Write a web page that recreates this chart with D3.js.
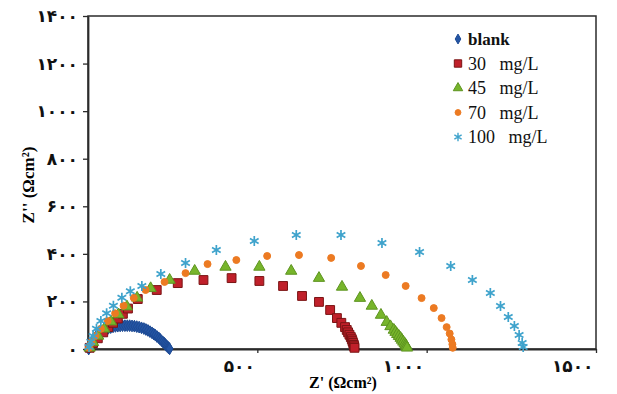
<!DOCTYPE html>
<html>
<head>
<meta charset="utf-8">
<script src="https://cdn.jsdelivr.net/npm/d3@7"></script>
<style>
  body { margin: 0; background: #fff; }
  text { white-space: pre; }
</style>
</head>
<body>
<div id="chart"></div>
<script>
// Chart size
var width = 617;
var height = 394;

// Nyquist data [Z', Z''] for each concentration
var blank = [[2,0],[5,10],[8,20],[11,29],[15,38],[19,46],[24,54],[29,61],[35,68],[41,74],[47,79],[53,83],[60,87],[67,90],[74,93],[81,95],[88,96],[95,97],[102,98],[109,98],[116,98],[123,98],[130,97],[137,96],[144,94],[151,92],[158,89],[165,86],[171,82],[177,78],[183,73],[189,68],[194,63],[199,58],[204,52],[209,47],[213,41],[217,35],[221,30],[225,25],[228,20],[231,15],[234,11],[237,7],[239,4],[241,1]];
var c30 = [[5,5],[15,25],[29,45],[45,70],[60,92],[74,110],[88,128],[103,148],[118,170],[147,210],[203,248],[265,277],[341,290],[424,298],[506,286],[576,265],[632,223],[682,198],[715,164],[735,130],[748,110],[759,92],[764,80],[768,70],[772,60],[776,50],[779,41],[781,33],[783,25],[785,17],[786,11],[787,5]];
var c45 = [[5,5],[15,28],[30,55],[48,85],[68,115],[90,145],[115,178],[145,215],[185,255],[241,290],[315,328],[406,345],[506,345],[600,328],[682,298],[750,261],[803,214],[838,181],[865,143],[882,113],[893,95],[903,80],[908,71],[913,62],[918,54],[923,46],[927,38],[931,30],[935,23],[938,17],[940,11],[942,5]];
var c70 = [[3,5],[10,28],[22,55],[38,85],[58,118],[80,150],[105,182],[135,215],[170,248],[226,282],[288,319],[353,357],[438,374],[529,391],[623,395],[718,383],[806,349],[879,311],[938,265],[985,214],[1021,172],[1044,130],[1059,92],[1068,65],[1073,40],[1076,20],[1077,5]];
var c100 = [[3,8],[8,30],[15,55],[25,85],[38,118],[55,150],[75,182],[100,215],[125,243],[159,265],[215,315],[288,362],[379,416],[491,454],[615,479],[747,479],[868,446],[979,408],[1071,349],[1135,290],[1188,235],[1218,181],[1241,135],[1259,97],[1273,59],[1282,25],[1285,8]];

var seriesNames = ["blank", "30   mg/L", "45   mg/L", "70   mg/L", "100   mg/L"];

// Tick values and their Persian labels
var xTicks = [500, 1000, 1500];
var xTickLabels = ["۵۰۰", "۱۰۰۰", "۱۵۰۰"];
var yTicks = [0, 200, 400, 600, 800, 1000, 1200, 1400];
var yTickLabels = ["۰", "۲۰۰", "۴۰۰", "۶۰۰", "۸۰۰", "۱۰۰۰", "۱۲۰۰", "۱۴۰۰"];

var series = [
    {name: seriesNames[0], data: blank, shape: d3.symbolDiamond, size: 40, fill: "#2455a4", stroke: "#1d4a94"},
    {name: seriesNames[1], data: c30, shape: d3.symbolSquare, size: 78, fill: "#c0202a", stroke: "#7a1414"},
    {name: seriesNames[2], data: c45, shape: d3.symbolTriangle, size: 55, fill: "#77b52b", stroke: "#5d9420"},
    {name: seriesNames[3], data: c70, shape: d3.symbolCircle, size: 38, fill: "#ec7a22", stroke: "#ec7a22"},
    {name: seriesNames[4], data: c100, shape: d3.symbolAsterisk, size: 70, fill: "none", stroke: "#3fa3cc"}
];

// Plot area
var plotLeft = 88, plotRight = 596, plotTop = 16, plotBottom = 349;

var x = d3.scaleLinear().domain([0, 1500]).range([plotLeft, plotRight]);
var y = d3.scaleLinear().domain([0, 1400]).range([plotBottom, plotTop]);

var svg = d3.select("#chart")
    .append("svg")
    .attr("width", width)
    .attr("height", height);

// Frame
svg.append("rect")
    .attr("x", plotLeft)
    .attr("y", plotTop)
    .attr("width", plotRight - plotLeft)
    .attr("height", plotBottom - plotTop)
    .attr("fill", "none")
    .attr("stroke", "#2b2b2b")
    .attr("stroke-width", 1.5);

// Axes
var yAxis = d3.axisLeft(y)
    .tickValues(yTicks)
    .tickFormat(function(d, i) { return yTickLabels[i]; })
    .tickSizeInner(5)
    .tickSizeOuter(0)
    .tickPadding(5);

var xAxis = d3.axisBottom(x)
    .tickValues(xTicks)
    .tickFormat(function(d, i) { return xTickLabels[i]; })
    .tickSizeInner(4)
    .tickSizeOuter(0)
    .tickPadding(7);

var gy = svg.append("g")
    .attr("transform", "translate(" + plotLeft + ",0)")
    .call(yAxis);

var gx = svg.append("g")
    .attr("transform", "translate(0," + plotBottom + ")")
    .call(xAxis);

[gx, gy].forEach(function(g) {
    g.select(".domain").attr("stroke", "#2b2b2b").attr("stroke-width", 1.8);
    g.selectAll(".tick line").attr("stroke", "#2b2b2b").attr("stroke-width", 1.3);
    g.selectAll(".tick text")
        .attr("fill", "#111")
        .style("font-family", "'DejaVu Sans', sans-serif")
        .style("font-weight", "bold")
        .style("font-size", "17px");
});
gx.selectAll(".tick text").attr("text-anchor", "end").attr("dx", "-3");

// Axis titles
svg.append("text")
    .attr("x", 343)
    .attr("y", 388)
    .attr("text-anchor", "middle")
    .style("font-family", "'Liberation Serif', serif")
    .style("font-weight", "bold")
    .style("font-size", "16px")
    .text("Z' (Ωcm²)");

svg.append("text")
    .attr("transform", "translate(34,185) rotate(-90)")
    .attr("text-anchor", "middle")
    .style("font-family", "'Liberation Serif', serif")
    .style("font-weight", "bold")
    .style("font-size", "17px")
    .text("Z'' (Ωcm²)");

// Markers
var symbol = d3.symbol();
var marks = svg.append("g");

series.forEach(function(s) {
    marks.append("g")
        .selectAll("path")
        .data(s.data)
        .enter()
        .append("path")
        .attr("transform", function(d) { return "translate(" + x(d[0]) + "," + y(d[1]) + ")"; })
        .attr("d", symbol.type(s.shape).size(s.size)())
        .attr("fill", s.fill)
        .attr("stroke", s.stroke)
        .attr("stroke-width", s.fill == "none" ? 1.7 : 1);
});

// Legend
var legend = svg.append("g");
series.forEach(function(s, i) {
    var ly = 39 + i * 24.5;
    legend.append("path")
        .attr("transform", "translate(458," + ly + ")")
        .attr("d", symbol.type(s.shape).size(s.size * 0.7)())
        .attr("fill", s.fill)
        .attr("stroke", s.stroke)
        .attr("stroke-width", s.fill == "none" ? 1.4 : 1);
    legend.append("text")
        .attr("x", 468)
        .attr("y", ly + 6)
        .style("font-family", "'Liberation Serif', serif")
        .style("font-size", i == 0 ? "17px" : "18px")
        .style("font-weight", i == 0 ? "bold" : "normal")
        .attr("fill", "#111")
        .text(s.name);
});
</script>
</body>
</html>
